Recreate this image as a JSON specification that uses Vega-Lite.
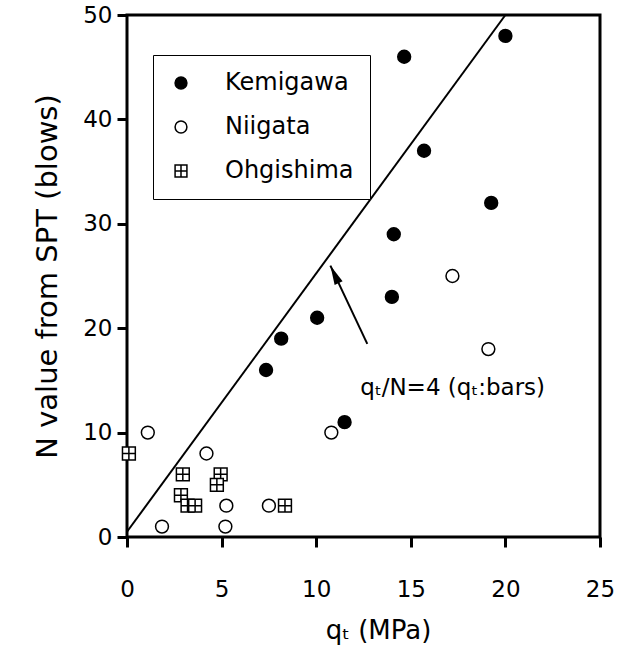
{
  "$schema": "https://vega.github.io/schema/vega-lite/v6.json",
  "width": 473,
  "height": 522,
  "autosize": "none",
  "padding": {"left": 127, "top": 15, "right": 29, "bottom": 117},
  "background": "white",
  "config": {
    "view": {"stroke": "black", "strokeWidth": 3},
    "font": "DejaVu Sans",
    "axis": {
      "domainColor": "black", "tickColor": "black", "labelColor": "black", "titleColor": "black",
      "labelFont": "DejaVu Sans", "titleFont": "DejaVu Sans", "labelFontSize": 23, "titleFontSize": 24,
      "titleFontWeight": "normal", "grid": false, "labelFlush": false, "labelOverlap": false
    }
  },
  "datasets": {
    "pts": [
      {"q": 7.35, "N": 16, "site": "Kemigawa"},
      {"q": 8.15, "N": 19, "site": "Kemigawa"},
      {"q": 10.05, "N": 21, "site": "Kemigawa"},
      {"q": 11.5, "N": 11, "site": "Kemigawa"},
      {"q": 14.0, "N": 23, "site": "Kemigawa"},
      {"q": 14.1, "N": 29, "site": "Kemigawa"},
      {"q": 14.65, "N": 46, "site": "Kemigawa"},
      {"q": 15.7, "N": 37, "site": "Kemigawa"},
      {"q": 19.25, "N": 32, "site": "Kemigawa"},
      {"q": 20.0, "N": 48, "site": "Kemigawa"},
      {"q": 1.1, "N": 10, "site": "Niigata"},
      {"q": 4.2, "N": 8, "site": "Niigata"},
      {"q": 1.85, "N": 1, "site": "Niigata"},
      {"q": 5.25, "N": 3, "site": "Niigata"},
      {"q": 5.2, "N": 1, "site": "Niigata"},
      {"q": 7.5, "N": 3, "site": "Niigata"},
      {"q": 10.8, "N": 10, "site": "Niigata"},
      {"q": 17.2, "N": 25, "site": "Niigata"},
      {"q": 19.1, "N": 18, "site": "Niigata"},
      {"q": 0.1, "N": 8, "site": "Ohgishima"},
      {"q": 2.95, "N": 6, "site": "Ohgishima"},
      {"q": 2.85, "N": 4, "site": "Ohgishima"},
      {"q": 3.2, "N": 3, "site": "Ohgishima"},
      {"q": 3.6, "N": 3, "site": "Ohgishima"},
      {"q": 4.95, "N": 6, "site": "Ohgishima"},
      {"q": 4.75, "N": 5, "site": "Ohgishima"},
      {"q": 8.35, "N": 3, "site": "Ohgishima"}
    ],
    "fitline": [
      {"q": 0, "N": 0.5},
      {"q": 20, "N": 50}
    ],
    "arrow": [
      {"q": 12.7, "N": 18.5, "q2": 10.75, "N2": 26.0}
    ],
    "label": [
      {"q": 12.33, "N": 13.6, "text": "qₜ/N=4 (qₜ:bars)"}
    ]
  },
  "layer": [
    {
      "data": {"name": "fitline"},
      "mark": {"type": "line", "color": "black", "strokeWidth": 2},
      "encoding": {
        "x": {"field": "q", "type": "quantitative", "scale": {"domain": [0, 25], "nice": false, "zero": false},
              "axis": {"orient": "bottom", "values": [0,5,10,15,20,25], "ticks": true, "tickSize": 10, "tickColor": "black", "tickWidth": 3, "domain": false, "labelPadding": 31, "title": "qₜ  (MPa)", "titleFontSize": 26, "titlePadding": 16, "titleX": 251}},
        "y": {"field": "N", "type": "quantitative", "scale": {"domain": [0, 50], "nice": false, "zero": false},
              "axis": {"orient": "left", "values": [0,10,20,30,40,50], "ticks": true, "tickSize": 10, "tickColor": "black", "tickWidth": 3, "domain": false, "labelPadding": 5, "title": "N  value from SPT (blows)", "titleFontSize": 29, "titlePadding": 20}}
      }
    },
    {
      "data": {"name": "arrow"},
      "mark": {"type": "rule", "color": "black", "strokeWidth": 2},
      "encoding": {
        "x": {"field": "q", "type": "quantitative", "axis": null},
        "y": {"field": "N", "type": "quantitative", "axis": null},
        "x2": {"field": "q2"},
        "y2": {"field": "N2"}
      }
    },
    {
      "data": {"name": "arrow"},
      "mark": {"type": "point", "shape": "M0,0L0.45,2L-0.45,2Z", "filled": true, "color": "black", "size": 380, "angle": 335, "opacity": 1},
      "encoding": {
        "x": {"field": "q2", "type": "quantitative", "axis": null},
        "y": {"field": "N2", "type": "quantitative", "axis": null}
      }
    },
    {
      "data": {"name": "label"},
      "mark": {"type": "text", "align": "left", "baseline": "alphabetic", "fontSize": 23, "font": "DejaVu Sans", "color": "black"},
      "encoding": {
        "x": {"field": "q", "type": "quantitative", "axis": null},
        "y": {"field": "N", "type": "quantitative", "axis": null},
        "text": {"field": "text"}
      }
    },
    {
      "data": {"name": "pts"},
      "mark": {"type": "point", "filled": true, "stroke": "black", "strokeWidth": 1.5, "size": 165, "opacity": 1},
      "encoding": {
        "x": {"field": "q", "type": "quantitative", "axis": null},
        "y": {"field": "N", "type": "quantitative", "axis": null},
        "shape": {"field": "site", "type": "nominal",
                  "scale": {"domain": ["Kemigawa", "Niigata", "Ohgishima"], "range": ["circle", "circle", "M-1,-1H1V1H-1Z M0,-1V1 M-1,0H1"]},
                  "legend": {"title": null, "orient": "none", "legendX": 26, "legendY": 40, "strokeColor": "black", "fillColor": "white",
                             "padding": 16, "rowPadding": 20, "labelFontSize": 24, "labelFont": "DejaVu Sans", "labelColor": "black",
                             "labelOffset": 32, "symbolSize": 140, "symbolStrokeWidth": 1.5}},
        "fill": {"field": "site", "type": "nominal",
                 "scale": {"domain": ["Kemigawa", "Niigata", "Ohgishima"], "range": ["black", "white", "white"]},
                 "legend": {"title": null, "orient": "none", "legendX": 26, "legendY": 40, "strokeColor": "black", "fillColor": "white",
                             "padding": 16, "rowPadding": 20, "labelFontSize": 24, "labelFont": "DejaVu Sans", "labelColor": "black",
                             "labelOffset": 32, "symbolSize": 140, "symbolStrokeWidth": 1.5}}
      }
    }
  ],
  "resolve": {"axis": {"x": "independent", "y": "independent"}}
}
